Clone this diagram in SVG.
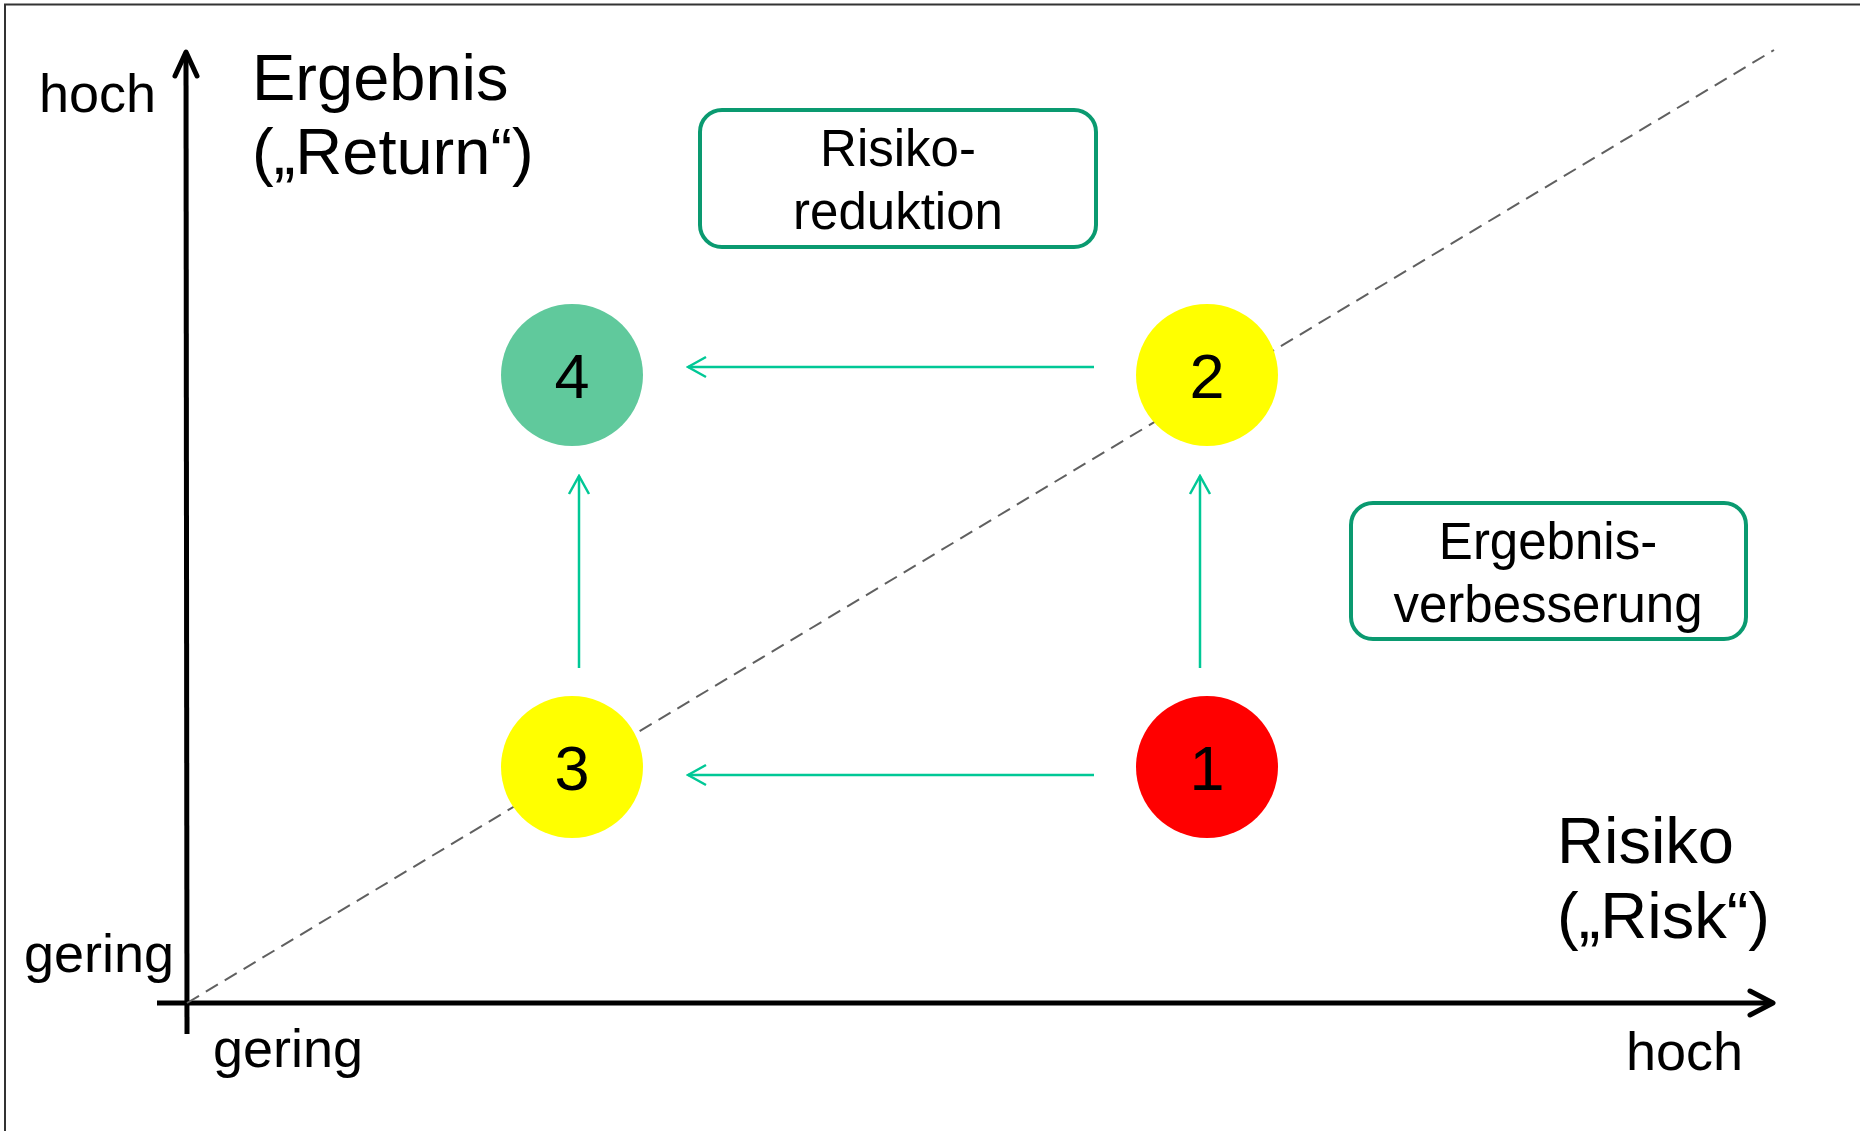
<svg xmlns="http://www.w3.org/2000/svg" width="1860" height="1131" viewBox="0 0 1860 1131">
<defs>
<style>
text{font-family:"Liberation Sans",Arial,sans-serif;fill:#000}
.lbl{font-size:54px}
.title{font-size:65px}
.box{fill:#fff;stroke:#0a9a70;stroke-width:4}
.btxt{font-size:51px;text-anchor:middle}
.num{font-size:63px;text-anchor:middle}
.axis{stroke:#000;stroke-width:5;fill:none}
.ahead{stroke:#000;stroke-width:5;fill:none;stroke-linecap:round;stroke-linejoin:round}
.flow{stroke:#00c896;stroke-width:2.5;fill:none}
</style>
<marker id="g" markerUnits="userSpaceOnUse" viewBox="0 0 24 24" refX="22" refY="12" markerWidth="24" markerHeight="24" orient="auto">
<path d="M4,2 L22,12 L4,22" fill="none" stroke="#00c896" stroke-width="2.5"/>
</marker>
</defs>
<rect width="1860" height="1131" fill="#fff"/>
<path d="M5,1131 V4.5 H1860" fill="none" stroke="#333" stroke-width="2"/>

<g id="axes">
<line class="axis" x1="187" y1="1034" x2="186" y2="54"/>
<path class="ahead" d="M175,76 L186,52 L197,76"/>
<line class="axis" x1="157" y1="1003" x2="1770" y2="1003"/>
<path class="ahead" d="M1750,991 L1773,1003 L1750,1015"/>
<line x1="187" y1="1003" x2="1774" y2="50" stroke="#606060" stroke-width="2" stroke-dasharray="14 8"/>
</g>

<g id="labels">
<text class="lbl" x="39" y="112">hoch</text>
<text class="lbl" x="24" y="972">gering</text>
<text class="lbl" x="213" y="1067">gering</text>
<text class="lbl" x="1626" y="1070">hoch</text>
<text class="title" x="252" y="100">Ergebnis</text>
<text class="title" x="252" y="174">(„Return“)</text>
<text class="title" x="1557" y="863">Risiko</text>
<text class="title" x="1557" y="938">(„Risk“)</text>
</g>

<g id="connectors">
<line class="flow" x1="1094" y1="367" x2="688" y2="367" marker-end="url(#g)"/>
<line class="flow" x1="1094" y1="775" x2="688" y2="775" marker-end="url(#g)"/>
<line class="flow" x1="579" y1="668" x2="579" y2="476" marker-end="url(#g)"/>
<line class="flow" x1="1200" y1="668" x2="1200" y2="476" marker-end="url(#g)"/>
</g>

<g id="box-risikoreduktion">
<rect class="box" x="700" y="110" width="396" height="137" rx="22"/>
<text class="btxt" x="898" y="166">Risiko-</text>
<text class="btxt" x="898" y="229">reduktion</text>
</g>
<g id="box-ergebnisverbesserung">
<rect class="box" x="1351" y="503" width="395" height="136" rx="22"/>
<text class="btxt" x="1548" y="559">Ergebnis-</text>
<text class="btxt" x="1548" y="622">verbesserung</text>
</g>

<g id="node-1">
<circle cx="1207" cy="767" r="71" fill="#ff0000"/>
<text class="num" x="1207" y="790">1</text>
</g>
<g id="node-2">
<circle cx="1207" cy="375" r="71" fill="#ffff00"/>
<text class="num" x="1207" y="398">2</text>
</g>
<g id="node-3">
<circle cx="572" cy="767" r="71" fill="#ffff00"/>
<text class="num" x="572" y="790">3</text>
</g>
<g id="node-4">
<circle cx="572" cy="375" r="71" fill="#60c99c"/>
<text class="num" x="572" y="398">4</text>
</g>
</svg>
